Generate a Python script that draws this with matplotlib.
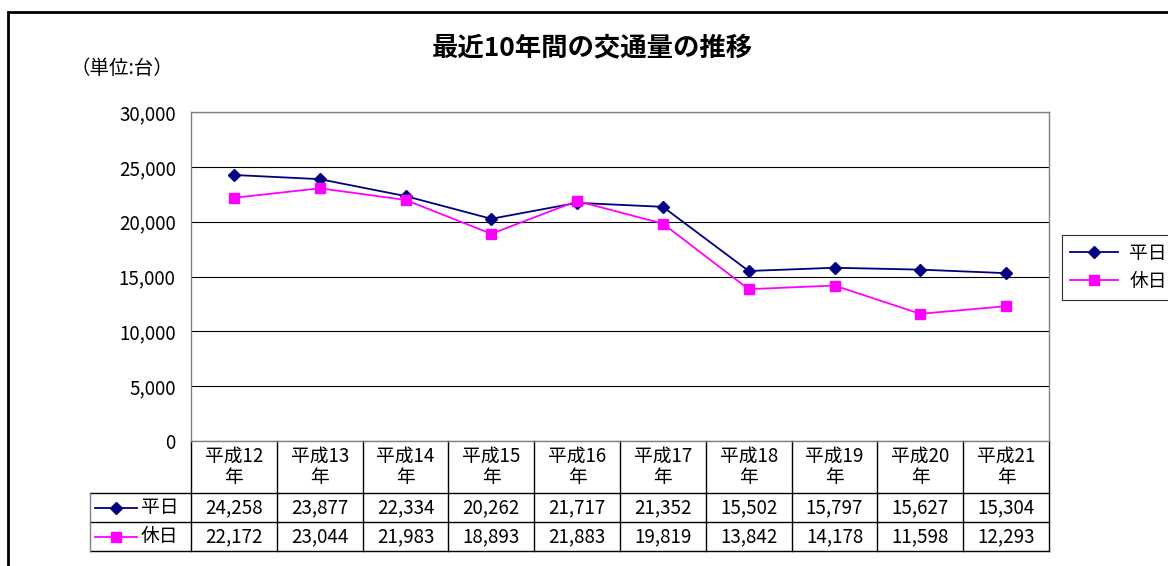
import matplotlib
matplotlib.use('Agg')
import matplotlib.pyplot as plt
import matplotlib.patches as patches

plt.rcParams['font.family'] = ['Noto Sans CJK JP', 'DejaVu Sans']

# --- データ ---
years = ['平成12\n年', '平成13\n年', '平成14\n年', '平成15\n年', '平成16\n年',
         '平成17\n年', '平成18\n年', '平成19\n年', '平成20\n年', '平成21\n年']
weekday = [24258, 23877, 22334, 20262, 21717, 21352, 15502, 15797, 15627, 15304]
holiday = [22172, 23044, 21983, 18893, 21883, 19819, 13842, 14178, 11598, 12293]
yticks = [0, 5000, 10000, 15000, 20000, 25000, 30000]

W, H = 1168, 566
FS = 13.5
fig = plt.figure(figsize=(W / 100, H / 100), dpi=100)

# 外枠
fig.patches.append(patches.Rectangle((8 / W, -0.1), 1.2, 1 - 12 / H + 0.1,
                                     transform=fig.transFigure, fill=False,
                                     lw=2, edgecolor='black'))

x0, x1, y0, y1 = 191, 1049, 112, 441
ax = fig.add_axes([x0 / W, 1 - y1 / H, (x1 - x0) / W, (y1 - y0) / H])
n = len(years)
xs = list(range(n))
ax.set_xlim(-0.5, n - 0.5)
ax.set_ylim(0, 30000)
ax.set_yticks(yticks)
ax.set_yticklabels([f'{v:,}' for v in yticks], fontsize=FS)
ax.tick_params(axis='y', length=0, pad=11)
ax.set_xticks([])
ax.grid(axis='y', color='black', lw=0.8)
ax.set_axisbelow(True)
for s in ax.spines.values():
    s.set_color('#808080')
    s.set_linewidth(1)

ax.plot(xs, weekday, color='#000080', marker='D', markersize=6, lw=1.3, label='平日')
ax.plot(xs, holiday, color='#FF00FF', marker='s', markersize=7, lw=1.3, label='休日')

fig.text(592 / W, 1 - 49 / H, '最近10年間の交通量の推移', ha='center', va='center',
         fontsize=19, fontweight='bold')
fig.text(70 / W, 1 - 68 / H, '（単位:台）', ha='left', va='center', fontsize=14)

leg = fig.legend(loc='upper left', bbox_to_anchor=(1062 / W, 1 - 235 / H),
                 fontsize=FS, frameon=True, fancybox=False, borderpad=0.4,
                 handlelength=2.6, labelspacing=0.4, handletextpad=0.6,
                 borderaxespad=0)
leg.get_frame().set_edgecolor('black')
leg.get_frame().set_linewidth(0.8)

# --- データテーブル ---
ph = y1 - y0
unit = (x1 - x0) / n
def ay(py):
    return -(py - y1) / ph
def dx(px):
    return -0.5 + (px - x0) / unit

tr = ax.get_xaxis_transform()
hdr_b, r1_b, r2_b = ay(493), ay(522), ay(551)
left = dx(90)
for k in range(n + 1):
    ax.plot([k - 0.5, k - 0.5], [0, r2_b], color='black', lw=1, transform=tr, clip_on=False)
for yb in [hdr_b, r1_b, r2_b]:
    ax.plot([left, n - 0.5], [yb, yb], color='black', lw=1, transform=tr, clip_on=False)
ax.plot([left, left], [hdr_b, r2_b], color='#808080', lw=1, transform=tr, clip_on=False)

for i, lab in enumerate(years):
    ax.text(i, ay(467), lab, ha='center', va='center', fontsize=FS,
            linespacing=1.0, transform=tr)
    ax.text(i, ay(507.5), f'{weekday[i]:,}', ha='center', va='center', fontsize=FS, transform=tr)
    ax.text(i, ay(536.5), f'{holiday[i]:,}', ha='center', va='center', fontsize=FS, transform=tr)

rows = [('平日', '#000080', 'D', 6, 507.5), ('休日', '#FF00FF', 's', 7, 536.5)]
for name, c, m, ms, py in rows:
    ax.plot([dx(95), dx(137)], [ay(py), ay(py)], color=c, lw=1.3, transform=tr, clip_on=False)
    ax.plot([dx(116)], [ay(py)], color=c, marker=m, markersize=ms, transform=tr, clip_on=False)
    ax.text(dx(141), ay(py), name, ha='left', va='center', fontsize=FS, transform=tr)

fig.savefig('out.png', dpi=100)
